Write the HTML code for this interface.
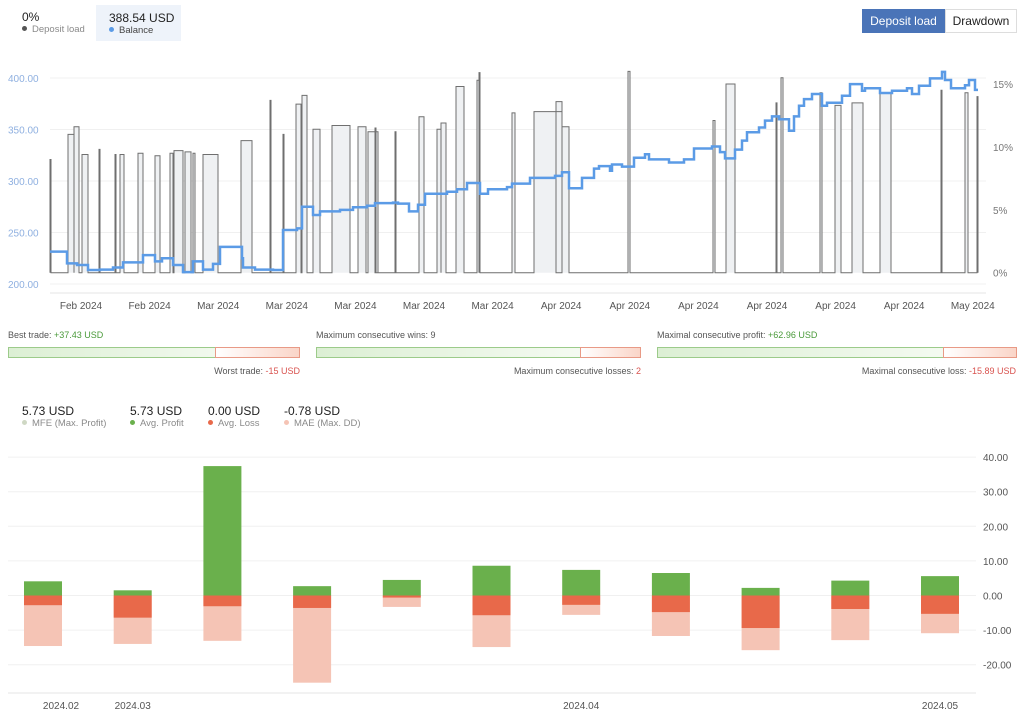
<!DOCTYPE html>
<html><head><meta charset="utf-8">
<style>
body{margin:0;width:1024px;height:715px;background:#fff;font-family:"Liberation Sans","DejaVu Sans",sans-serif;position:relative;overflow:hidden}
.abs{position:absolute}
.v{font-size:12px;color:#222}
.l{font-size:9.5px;color:#8a8a8a}
.dot{display:inline-block;width:5px;height:5px;border-radius:50%;margin-right:5px;vertical-align:1px}
.sl{font-size:9px;color:#555}
.bar{position:absolute;height:11px;border:1px solid #9ccb8a;box-sizing:border-box;background:linear-gradient(90deg,#dcefd4,#fafdf8)}
.bar .r{position:absolute;top:-1px;bottom:-1px;right:-1px;border:1px solid #e89a86;background:linear-gradient(90deg,#fff,#fad5c8)}
</style></head><body>
<div class="abs" style="left:22px;top:10px"><div class="v">0%</div><div class="l"><span class="dot" style="background:#555"></span>Deposit load</div></div>
<div class="abs" style="left:96px;top:5px;width:85px;height:36px;background:#eef3fa"><div class="v" style="margin:6px 0 0 13px">388.54 USD</div><div class="l" style="margin-left:13px;color:#444"><span class="dot" style="background:#5b9be6"></span>Balance</div></div>
<div class="abs" style="left:862px;top:9px;width:83px;height:24px;background:#4a74b8;color:#fff;font-size:12px;line-height:24px;text-align:center">Deposit load</div>
<div class="abs" style="left:945px;top:9px;width:70px;height:22px;border:1px solid #ddd;color:#222;font-size:12px;line-height:22px;text-align:center">Drawdown</div>

<svg id="topchart" class="abs" style="left:0;top:0" width="1024" height="320"></svg>

<div class="abs sl" style="left:8px;top:330px">Best trade: <span style="color:#4a9a3a">+37.43 USD</span></div>
<div class="bar" style="left:8px;top:347px;width:292px"><div class="r" style="width:83px"></div></div>
<div class="abs sl" style="right:724px;top:366px">Worst trade: <span style="color:#d9534f">-15 USD</span></div>
<div class="abs sl" style="left:316px;top:330px">Maximum consecutive wins: 9</div>
<div class="bar" style="left:316px;top:347px;width:325px"><div class="r" style="width:59px"></div></div>
<div class="abs sl" style="right:383px;top:366px">Maximum consecutive losses: <span style="color:#d9534f">2</span></div>
<div class="abs sl" style="left:657px;top:330px">Maximal consecutive profit: <span style="color:#4a9a3a">+62.96 USD</span></div>
<div class="bar" style="left:657px;top:347px;width:360px"><div class="r" style="width:72px"></div></div>
<div class="abs sl" style="right:8px;top:366px">Maximal consecutive loss: <span style="color:#d9534f">-15.89 USD</span></div>

<div class="abs" style="left:22px;top:404px"><div class="v">5.73 USD</div><div class="l"><span class="dot" style="background:#cfd8c4"></span>MFE (Max. Profit)</div></div>
<div class="abs" style="left:130px;top:404px"><div class="v">5.73 USD</div><div class="l"><span class="dot" style="background:#6ab04c"></span>Avg. Profit</div></div>
<div class="abs" style="left:208px;top:404px"><div class="v">0.00 USD</div><div class="l"><span class="dot" style="background:#e8694a"></span>Avg. Loss</div></div>
<div class="abs" style="left:284px;top:404px"><div class="v">-0.78 USD</div><div class="l"><span class="dot" style="background:#f5c4b5"></span>MAE (Max. DD)</div></div>

<svg id="bot" class="abs" style="left:0;top:440px" width="1024" height="275"></svg>

<script>
// ---- top chart data (time in 0.1-day units from start) ----
const balT=[0,17,27,38,50,63,73,93,105,112,123,133,143,153,163,170,192,193,205,223,233,247,252,263,270,290,303,317,325,343,348,359,368,375,397,407,417,430,438,457,462,480,505,512,519,532,544,549,560,562,572,584,595,599,619,634,644,662,670,675,685,692,697,709,715,722,729,739,744,749,754,762,772,777,792,800,812,815,830,842,857,862,869,880,892,895,901,915,919,925];
const balV=[231.4,220,218.5,213.6,214,216,221,228,222,225,218.5,211.5,222,214,219.5,236,225,216,214,213.6,252.4,254,275,267,270.5,272,274.5,276,278.5,279,278,270.5,277,287.6,289.6,292,298,287.6,292,294,297.5,303,305,308.5,293,303,312,314.5,310,316,314,322.6,326,321,318,321,331.6,333.5,328,322,330.5,339.2,347.3,352,358.6,362.8,360,348.8,362.8,373,379.5,384.5,373,376,382.8,394,387.6,390,385.4,387.6,390,384.5,392.5,399.6,406,398,390,393,398,388.5];
const balEnd=928;
const loadStart=[0,18,24,32,49,65,70,88,105,120,124,135,143,153,191,220,233,246,252,263,282,308,318,325,345,369,387,391,406,427,429,462,484,506,512,578,663,676,726,731,770,785,802,830,891,915,927];
const loadEnd=[1,24,29,38,50,66,74,93,110,123,133,141,145,168,202,221,234,251,257,270,300,316,328,326,346,374,391,396,414,429,430,465,512,512,519,580,665,685,727,733,772,791,813,841,892,918,928];
const loadPct=[9,11,11.6,9.4,9.8,9.4,9.4,9.5,9.3,9.5,9.7,9.6,9.5,9.4,10.5,13.7,11,13.4,14.1,11.4,11.7,11.6,11.2,11.5,11.2,12.4,11.4,11.9,14.8,15.3,15.9,12.7,12.8,13.6,11.6,16,12.1,15,13.5,15.5,14.3,13.3,13.5,14.3,14.5,14.3,14];
const balTicks=[200,250,300,350,400];
const pctTicks=[0,5,10,15];
const dateLabels=["Feb 2024","Feb 2024","Mar 2024","Mar 2024","Mar 2024","Mar 2024","Mar 2024","Apr 2024","Apr 2024","Apr 2024","Apr 2024","Apr 2024","Apr 2024","May 2024"];

// ---- bottom chart data ----
const months=["2024.02","2024.03","","","","","2024.04","","","","2024.05"];
const profit=[4.1,1.5,37.4,2.7,4.5,8.6,7.4,6.5,2.2,4.3,5.6];
const loss=[-2.8,-6.4,-3.1,-3.6,-0.6,-5.7,-2.7,-4.8,-9.4,-3.9,-5.3];
const mae=[-14.6,-14,-13.1,-25.2,-3.3,-14.9,-5.6,-11.7,-15.8,-12.9,-10.9];
const botTicks=[-20,-10,0,10,20,30,40];

const NS="http://www.w3.org/2000/svg";
function mk(p,tag,a){const e=document.createElementNS(NS,tag);for(const k in a)e.setAttribute(k,a[k]);p.appendChild(e);return e;}
const topSvg=document.getElementById('topchart');
const tx=t=>50+t;
const by=v=>284-(v-200)*206/200;
const py=p=>272.7-p*12.58;
balTicks.forEach(v=>{
 const g=mk(topSvg,'line',{x1:50,x2:986,y1:by(v),y2:by(v),stroke:'#f0f0f0'});
 
 
 const t=mk(topSvg,'text',{x:8,y:by(v)+4,'font-size':10,fill:'#8fb0e0'});t.textContent=v.toFixed(2);
 
 
});
pctTicks.forEach(p=>{
 const t=mk(topSvg,'text',{x:993,y:py(p)+4,'font-size':10,fill:'#777'});t.textContent=p+'%';
 
 
});
const ax=mk(topSvg,'line',{x1:50,x2:986,y1:293,y2:293,stroke:'#e6e6e6'});


dateLabels.forEach((s,i)=>{
 const t=mk(topSvg,'text',{x:81+i*68.6,y:309,'font-size':10,fill:'#555','text-anchor':'middle'});t.textContent=s;
 
 
});
let d='M'+tx(0)+' '+py(0);
loadStart.forEach((s,i)=>{
 d+=' L'+tx(s)+' '+py(0)+' L'+tx(s)+' '+py(loadPct[i])+' L'+tx(loadEnd[i])+' '+py(loadPct[i])+' L'+tx(loadEnd[i])+' '+py(0);
});
d+=' L'+tx(balEnd)+' '+py(0);
const lp=mk(topSvg,'path',{d:d,fill:'#eff1f3',stroke:'#6f6f6f','stroke-width':1});


let b='M'+tx(balT[0])+' '+by(balV[0]);
for(let i=1;i<balT.length;i++){b+=' L'+tx(balT[i])+' '+by(balV[i-1])+' L'+tx(balT[i])+' '+by(balV[i]);}
b+=' L'+tx(balEnd)+' '+by(balV[balV.length-1]);
const bl=mk(topSvg,'path',{d:b,fill:'none',stroke:'#5b9be6','stroke-width':2.5});



const bot=document.getElementById('bot');
const y0=155.5, k=3.46;
const vy=v=>y0-v*k;
const cx=i=>43+i*89.7;
botTicks.forEach(v=>{
 const g=mk(bot,'line',{x1:8,x2:976,y1:vy(v),y2:vy(v),stroke:'#f0f0f0'});
 
 
 const t=mk(bot,'text',{x:983,y:vy(v)+4,'font-size':10,fill:'#555'});t.textContent=v.toFixed(2);
 
 
});
const bax=mk(bot,'line',{x1:8,x2:976,y1:253,y2:253,stroke:'#e6e6e6'});


profit.forEach((p,i)=>{
 const x=cx(i)-19;
 const m=mk(bot,'rect',{x:x,y:vy(0),width:38,height:vy(mae[i])-vy(0),fill:'#f5c4b5'});
 
 
 const l=mk(bot,'rect',{x:x,y:vy(0),width:38,height:vy(loss[i])-vy(0),fill:'#e8694a'});
 
 
 const g=mk(bot,'rect',{x:x,y:vy(p),width:38,height:vy(0)-vy(p),fill:'#6ab04c'});
 
 
 if(months[i]){
  const t=mk(bot,'text',{x:cx(i)+(i===0?18:0),y:269,'font-size':10,fill:'#555','text-anchor':'middle'});t.textContent=months[i];
  
  
 }
});
</script>
</body></html>
